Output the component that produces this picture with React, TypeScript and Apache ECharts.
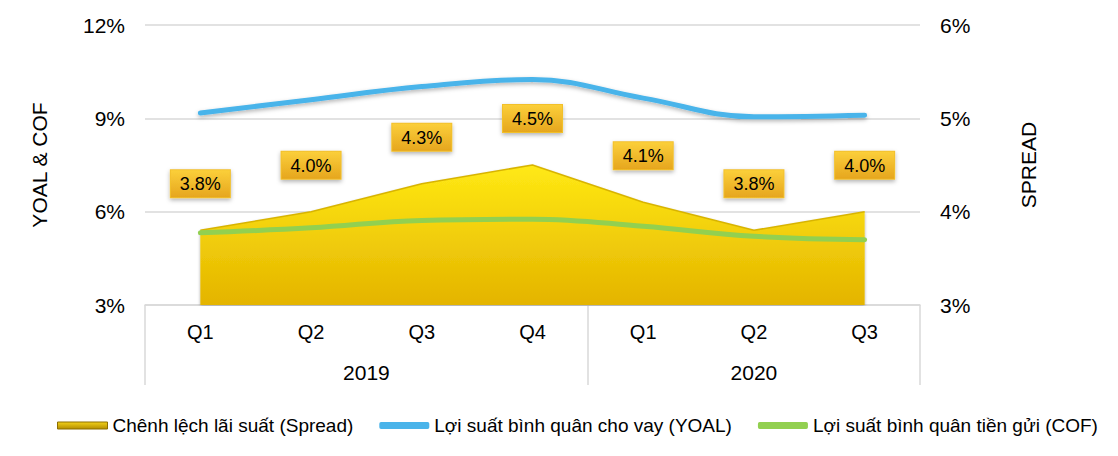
import { useEffect, useRef } from 'react'
import * as echarts from 'echarts'

// dữ liệu
const quarters = ['Q1', 'Q2', 'Q3', 'Q4', 'Q1', 'Q2', 'Q3']
const yearLabels = ['2019', '2020']
const spread = [3.8, 4.0, 4.3, 4.5, 4.1, 3.8, 4.0]
const yoal = [9.17, 9.6, 10.02, 10.25, 9.65, 9.05, 9.1]
const cof = [5.32, 5.48, 5.72, 5.76, 5.53, 5.21, 5.1]

const spreadName = 'Chênh lệch lãi suất (Spread)'
const yoalName = 'Lợi suất bình quân cho vay (YOAL)'
const cofName = 'Lợi suất bình quân tiền gửi (COF)'

const FONT = '"Liberation Sans", Arial, sans-serif'
const GRID_GREY = '#d9d9d9'

function buildOption() {
  const areaFill = new echarts.graphic.LinearGradient(0, 0, 0, 1, [
    { offset: 0, color: '#ffe914' },
    { offset: 1, color: '#e4b400' },
  ])
  const labelFill = new echarts.graphic.LinearGradient(0, 0, 0, 1, [
    { offset: 0, color: '#fbcf3a' },
    { offset: 1, color: '#e6a61e' },
  ])
  const legendAreaFill = new echarts.graphic.LinearGradient(0, 0, 0, 1, [
    { offset: 0, color: '#f3d21a' },
    { offset: 1, color: '#b38d00' },
  ])

  return {
    animation: false,
    textStyle: { fontFamily: FONT, color: '#000' },
    grid: { left: 145, right: 198, top: 25, bottom: 151, containLabel: false },
    legend: {
      left: 52,
      top: 411,
      itemWidth: 50,
      itemHeight: 7,
      itemGap: 26,
      textStyle: { fontFamily: FONT, fontSize: 19, color: '#000' },
      data: [
        { name: spreadName, icon: 'rect', itemStyle: { color: legendAreaFill, borderColor: '#8c6e00', borderWidth: 1 } },
        { name: yoalName, icon: 'roundRect', itemStyle: { color: '#4ab4ea', borderWidth: 0 } },
        { name: cofName, icon: 'roundRect', itemStyle: { color: '#92d050', borderWidth: 0 } },
      ],
    },
    xAxis: [
      {
        type: 'category',
        data: quarters,
        boundaryGap: true,
        axisLine: { show: true, lineStyle: { color: GRID_GREY, width: 1.5 } },
        axisTick: {
          show: true,
          length: 80,
          interval: (i: number) => i === 0 || i === 4,
          lineStyle: { color: GRID_GREY, width: 1.5 },
        },
        axisLabel: { interval: 0, fontSize: 20, color: '#000', margin: 17, fontFamily: FONT },
        splitLine: { show: false },
      },
      {
        // hàng nhãn năm bên dưới quý
        type: 'value',
        min: 0,
        max: 7,
        interval: 0.5,
        position: 'bottom',
        offset: 40,
        axisLine: { show: false },
        axisTick: { show: false },
        splitLine: { show: false },
        axisLabel: {
          fontSize: 21,
          color: '#000',
          margin: 17,
          fontFamily: FONT,
          formatter: (v: number) => (v === 2 ? yearLabels[0] : v === 5.5 ? yearLabels[1] : ''),
        },
      },
    ],
    yAxis: [
      {
        type: 'value',
        min: 3,
        max: 12,
        interval: 3,
        name: 'YOAL & COF',
        nameLocation: 'middle',
        nameRotate: 90,
        nameGap: 95,
        nameTextStyle: { fontSize: 21, color: '#000', fontFamily: FONT },
        axisLine: { show: false },
        axisTick: { show: false },
        axisLabel: { formatter: '{value}%', fontSize: 21, color: '#000', margin: 20, fontFamily: FONT },
        splitLine: { show: true, lineStyle: { color: GRID_GREY, width: 1.5 } },
      },
      {
        type: 'value',
        min: 3,
        max: 6,
        interval: 1,
        position: 'right',
        name: 'SPREAD',
        nameLocation: 'middle',
        nameRotate: 90,
        nameGap: 98,
        nameTextStyle: { fontSize: 21, color: '#000', fontFamily: FONT },
        axisLine: { show: false },
        axisTick: { show: false },
        axisLabel: { formatter: '{value}%', fontSize: 21, color: '#000', margin: 20, fontFamily: FONT },
        splitLine: { show: false },
      },
    ],
    series: [
      {
        name: spreadName,
        type: 'line',
        yAxisIndex: 1,
        data: spread,
        symbol: 'circle',
        symbolSize: 0,
        showSymbol: true,
        z: 1,
        itemStyle: { color: '#e8c000' },
        lineStyle: { color: '#d8b400', width: 1.5 },
        areaStyle: {
          color: areaFill,
          opacity: 1,
          shadowColor: 'rgba(0,0,0,0.35)',
          shadowBlur: 3,
          shadowOffsetY: 1,
        },
        label: {
          show: true,
          position: 'top',
          distance: 33,
          formatter: (p: any) => p.value.toFixed(1) + '%',
          fontSize: 18,
          fontFamily: FONT,
          color: '#000',
          backgroundColor: labelFill,
          borderColor: '#f2c02c',
          borderWidth: 1,
          padding: [5, 9, 4, 9],
          shadowColor: 'rgba(0,0,0,0.3)',
          shadowBlur: 4,
          shadowOffsetY: 2,
        },
      },
      {
        name: yoalName,
        type: 'line',
        yAxisIndex: 0,
        data: yoal,
        symbol: 'none',
        smooth: 0.4,
        z: 3,
        itemStyle: { color: '#4ab4ea' },
        lineStyle: {
          color: '#4ab4ea',
          width: 5,
          cap: 'round',
          shadowColor: 'rgba(0,0,0,0.3)',
          shadowBlur: 4,
          shadowOffsetY: 2,
        },
      },
      {
        name: cofName,
        type: 'line',
        yAxisIndex: 0,
        data: cof,
        symbol: 'none',
        smooth: 0.4,
        z: 2,
        itemStyle: { color: '#92d050' },
        lineStyle: { color: '#92d050', width: 5, cap: 'round' },
      },
    ],
  }
}

export default function App() {
  const chartRef = useRef<HTMLDivElement>(null)

  useEffect(() => {
    document.body.style.margin = '0'
    if (!chartRef.current) return
    const chart = echarts.init(chartRef.current, null, { renderer: 'svg' })
    chart.setOption(buildOption() as any)
    return () => {
      chart.dispose()
    }
  }, [])

  return <div ref={chartRef} style={{ width: '1118px', height: '456px', background: '#fff' }} />
}
